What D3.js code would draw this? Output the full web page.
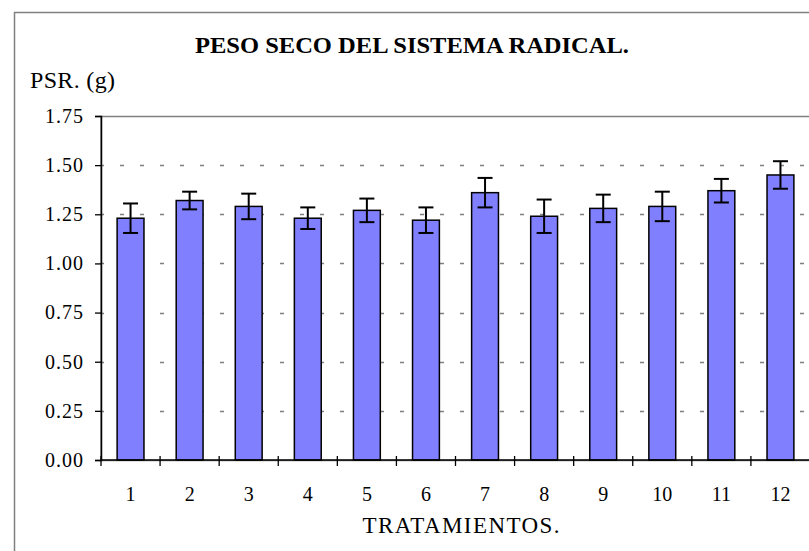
<!DOCTYPE html>
<html>
<head>
<meta charset="utf-8">
<script src="https://cdn.jsdelivr.net/npm/d3@7/dist/d3.min.js"></script>
<style>
  body { margin: 0; background: #fff; }
</style>
</head>
<body>
<svg width="809" height="551"></svg>
<script>
const tratamientos = ['1', '2', '3', '4', '5', '6', '7', '8', '9', '10', '11', '12'];
const psr = [1.23, 1.32, 1.29, 1.23, 1.27, 1.22, 1.36, 1.24, 1.28, 1.29, 1.37, 1.45];
const errorPsr = [0.075, 0.045, 0.065, 0.055, 0.06, 0.065, 0.075, 0.085, 0.07, 0.075, 0.06, 0.07];
const yTicks = [0, 0.25, 0.5, 0.75, 1.0, 1.25, 1.5, 1.75];

const serif = '"Liberation Serif"';

let svg = d3.select('svg');

const margin = {top: 116, right: -1, bottom: 91, left: 101},
    width = +svg.attr('width') - margin.left - margin.right,
    height = +svg.attr('height') - margin.top - margin.bottom;

// outer chart border (runs off the picture on the right and bottom)
svg.append('rect')
    .attr('x', 14.5).attr('y', 12.5)
    .attr('width', 900).attr('height', 600)
    .attr('fill', 'none')
    .attr('stroke', '#808080')
    .attr('stroke-width', 1.5);

svg.append('text')
    .attr('x', 412).attr('y', 53)
    .attr('text-anchor', 'middle')
    .style('font-family', serif)
    .style('font-weight', 'bold')
    .style('font-size', '23px')
    .attr('textLength', 434)
    .attr('lengthAdjust', 'spacingAndGlyphs')
    .text('PESO SECO DEL SISTEMA RADICAL.');

svg.append('text')
    .attr('x', 30).attr('y', 88)
    .style('font-family', serif)
    .style('font-size', '24px')
    .attr('textLength', 85)
    .text('PSR. (g)');

let g = svg.append('g').attr('transform', `translate(${margin.left}, ${margin.top})`);

let x = d3.scaleBand().domain(tratamientos).range([0, width]),
    y = d3.scaleLinear().domain([0, 1.75]).range([height, 0]);

const barW = x.bandwidth() / 2.2;

// plot area frame
g.append('rect')
    .attr('x', 0).attr('y', 0.5)
    .attr('width', width + 10).attr('height', height)
    .attr('fill', 'none')
    .attr('stroke', '#808080')
    .attr('stroke-width', 1.5);

// dashed grid lines
g.append('g')
  .selectAll('line')
  .data(yTicks.filter(d => d > 0 && d < 1.75))
  .enter().append('line')
    .attr('x1', -1).attr('x2', width)
    .attr('y1', d => Math.round(y(d)) + 0.5)
    .attr('y2', d => Math.round(y(d)) + 0.5)
    .attr('stroke', '#808080')
    .attr('stroke-width', 1.3)
    .attr('stroke-dasharray', '4,16');

// bars
g.append('g')
  .selectAll('rect')
  .data(psr)
  .enter().append('rect')
    .attr('x', (d, i) => x(tratamientos[i]) + (x.bandwidth() - barW) / 2)
    .attr('y', d => y(d))
    .attr('width', barW)
    .attr('height', d => height - y(d))
    .attr('fill', '#8080ff')
    .attr('stroke', '#000')
    .attr('stroke-width', 1.5);

// error bars
let err = g.append('g')
  .selectAll('g')
  .data(psr)
  .enter().append('g')
    .attr('transform', (d, i) => `translate(${x(tratamientos[i]) + x.bandwidth() / 2}, 0)`)
    .attr('stroke', '#000')
    .attr('stroke-width', 2);

err.append('line')
    .attr('x1', 0).attr('x2', 0)
    .attr('y1', (d, i) => y(d + errorPsr[i]))
    .attr('y2', (d, i) => y(d - errorPsr[i]));
err.append('line')
    .attr('x1', -7.5).attr('x2', 7.5)
    .attr('y1', (d, i) => y(d + errorPsr[i]))
    .attr('y2', (d, i) => y(d + errorPsr[i]));
err.append('line')
    .attr('x1', -7.5).attr('x2', 7.5)
    .attr('y1', (d, i) => y(d - errorPsr[i]))
    .attr('y2', (d, i) => y(d - errorPsr[i]));

// y axis
let yAx = g.append('g')
    .attr('class', 'axis axis--y')
    .attr('font-family', null)
    .call(d3.axisLeft(y).tickValues(yTicks).tickFormat(d3.format('.2f')).tickSize(6).tickPadding(11));
yAx.attr('font-family', 'Liberation Serif');
yAx.select('.domain').attr('stroke', '#000').attr('stroke-width', 1.5);
yAx.selectAll('.tick line').attr('stroke', '#000').attr('stroke-width', 1.3);
yAx.selectAll('text')
    .style('font-size', '20px')
    .style('font-family', serif)
    .style('letter-spacing', '1px')
    .attr('fill', '#000');

// x axis
let xAx = g.append('g')
    .attr('class', 'axis axis--x')
    .attr('transform', `translate(0, ${height})`)
    .call(d3.axisBottom(x).tickSize(0));
xAx.attr('font-family', 'Liberation Serif');
xAx.select('.domain').attr('stroke', '#000').attr('stroke-width', 1.5).attr('d', `M0,0H${width}`);
xAx.selectAll('text')
    .attr('y', 41).attr('dy', 0)
    .style('font-size', '20px')
    .style('font-family', serif)
    .attr('fill', '#000');

// tick marks at category boundaries
xAx.append('g')
  .selectAll('line')
  .data(tratamientos)
  .enter().append('line')
    .attr('x1', d => x(d)).attr('x2', d => x(d))
    .attr('y1', -4).attr('y2', 6)
    .attr('stroke', '#000')
    .attr('stroke-width', 1.3);

svg.append('text')
    .attr('x', 461).attr('y', 533)
    .attr('text-anchor', 'middle')
    .style('font-family', serif)
    .style('font-size', '23px')
    .attr('textLength', 197)
    .text('TRATAMIENTOS.');
</script>
</body>
</html>
